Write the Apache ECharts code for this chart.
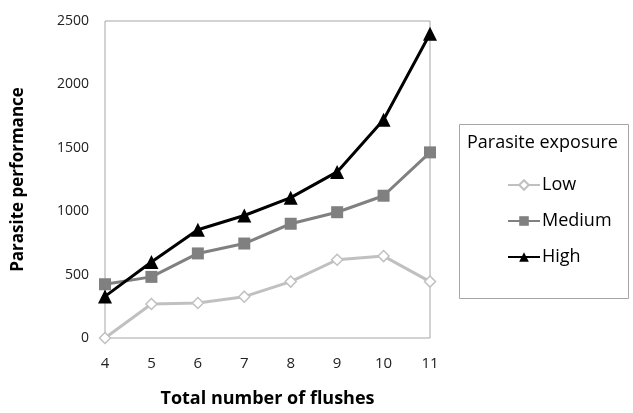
<!DOCTYPE html>
<html><head><meta charset="utf-8">
<script src="https://cdn.jsdelivr.net/npm/echarts@6/dist/echarts.min.js"></script>
<style>html,body{margin:0;padding:0;background:#fff}#c{width:633px;height:413px}</style>
</head><body><div id="c"></div>
<script>
const flushes = [4, 5, 6, 7, 8, 9, 10, 11];
const low = [0, 268, 276, 326, 445, 617, 646, 445];
const medium = [424, 482, 667, 745, 901, 992, 1122, 1464];
const high = [328, 599, 854, 966, 1107, 1310, 1721, 2400];
const yTicks = [0, 500, 1000, 1500, 2000, 2500];

const font = 'Open Sans';
const pair = a => flushes.map((x, i) => [x, a[i]]);
const chart = echarts.init(document.getElementById('c'));
chart.setOption({
  animation: false,
  textStyle: { fontFamily: font },
  grid: { left: 105, right: 203, top: 21, bottom: 72, show: true, borderColor: '#a6a6a6', borderWidth: 1 },
  xAxis: {
    type: 'value', min: flushes[0], max: flushes[flushes.length - 1], interval: 1,
    name: 'Total number of flushes', nameLocation: 'middle', nameGap: 52,
    nameTextStyle: { fontFamily: font, fontSize: 18, fontWeight: 'bold', color: '#000' },
    axisLine: { show: false }, axisTick: { show: false }, splitLine: { show: false },
    axisLabel: { color: '#222', fontSize: 15, margin: 18 }
  },
  yAxis: {
    type: 'value', min: yTicks[0], max: yTicks[yTicks.length - 1], interval: 500,
    name: 'Parasite performance', nameLocation: 'middle', nameGap: 78,
    nameTextStyle: { fontFamily: font, fontSize: 17, fontWeight: 'bold', color: '#000' },
    axisLine: { show: false }, axisTick: { show: false }, splitLine: { show: false },
    axisLabel: { color: '#222', fontSize: 14, margin: 16, formatter: v => String(v) }
  },
  legend: {
    orient: 'vertical', left: 502, top: 169, itemGap: 14, itemWidth: 32, itemHeight: 12,
    textStyle: { fontFamily: font, fontSize: 18, lineHeight: 22, color: '#000', padding: [0, 0, 0, -3] },
    data: ['Low', 'Medium', 'High']
  },
  graphic: [
    { type: 'rect', shape: { x: 459.5, y: 124.5, width: 169, height: 174 },
      style: { fill: 'none', stroke: '#a6a6a6', lineWidth: 1 } },
    { type: 'text', left: 467, top: 134,
      style: { text: 'Parasite exposure', fontFamily: font, fontSize: 18, fill: '#000' } }
  ],
  series: [
    { name: 'Low', type: 'line', data: pair(low), symbol: 'diamond', symbolSize: 11,
      lineStyle: { color: '#c0c0c0', width: 3 },
      itemStyle: { color: '#fff', borderColor: '#c0c0c0', borderWidth: 1.5 } },
    { name: 'Medium', type: 'line', data: pair(medium), symbol: 'rect', symbolSize: 12,
      lineStyle: { color: '#808080', width: 3 },
      itemStyle: { color: '#808080' } },
    { name: 'High', type: 'line', data: pair(high), symbol: 'triangle', symbolSize: 14,
      lineStyle: { color: '#000', width: 3 },
      itemStyle: { color: '#000' } }
  ]
});
</script></body></html>
